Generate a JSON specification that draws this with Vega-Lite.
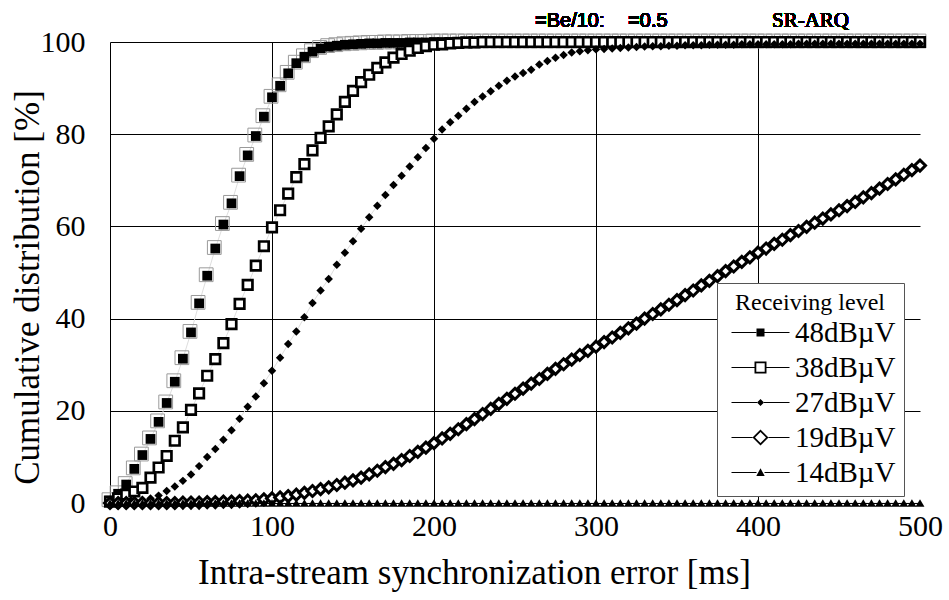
{
"$schema": "https://vega.github.io/schema/vega-lite/v6.json",
"width": 810, "height": 461,
"autosize": "none",
"padding": {"left": 110, "top": 42, "right": 29, "bottom": 97},
"background": "white",
"config": {"view": {"stroke": null}, "font": "Liberation Serif",
  "axis": {"labelFont": "Liberation Serif", "labelFontWeight": "normal", "titleFont": "Liberation Serif", "titleFontWeight": "normal"},
  "legend": {"labelFont": "Liberation Serif", "labelFontWeight": "normal", "titleFont": "Liberation Serif", "titleFontWeight": "normal"},
  "text": {"fontWeight": "normal"}},
"data": {"values": [
{"s":"48dBµV","t":0,"p":0.5},{"s":"48dBµV","t":5,"p":2},{"s":"48dBµV","t":10,"p":4},{"s":"48dBµV","t":15,"p":7.4},{"s":"48dBµV","t":20,"p":10.4},{"s":"48dBµV","t":25,"p":13.9},{"s":"48dBµV","t":30,"p":17.6},{"s":"48dBµV","t":35,"p":21.7},{"s":"48dBµV","t":40,"p":26.3},{"s":"48dBµV","t":45,"p":31.3},{"s":"48dBµV","t":50,"p":37},{"s":"48dBµV","t":55,"p":43.3},{"s":"48dBµV","t":60,"p":49.3},{"s":"48dBµV","t":65,"p":55.2},{"s":"48dBµV","t":70,"p":60.4},{"s":"48dBµV","t":75,"p":65},{"s":"48dBµV","t":80,"p":70.9},{"s":"48dBµV","t":85,"p":75.4},{"s":"48dBµV","t":90,"p":79.6},{"s":"48dBµV","t":95,"p":83.8},{"s":"48dBµV","t":100,"p":88},{"s":"48dBµV","t":105,"p":90.5},{"s":"48dBµV","t":110,"p":93.2},{"s":"48dBµV","t":115,"p":95.4},{"s":"48dBµV","t":120,"p":96.8},{"s":"48dBµV","t":125,"p":97.9},{"s":"48dBµV","t":130,"p":98.6},{"s":"48dBµV","t":135,"p":99},{"s":"48dBµV","t":140,"p":99.2},{"s":"48dBµV","t":145,"p":99.4},{"s":"48dBµV","t":150,"p":99.5},{"s":"48dBµV","t":155,"p":99.6},{"s":"48dBµV","t":160,"p":99.7},{"s":"48dBµV","t":165,"p":99.7},{"s":"48dBµV","t":170,"p":99.8},{"s":"48dBµV","t":175,"p":99.8},{"s":"48dBµV","t":180,"p":99.8},{"s":"48dBµV","t":185,"p":99.9},{"s":"48dBµV","t":190,"p":99.9},{"s":"48dBµV","t":195,"p":99.9},
{"s":"48dBµV","t":200,"p":100},{"s":"48dBµV","t":205,"p":100},{"s":"48dBµV","t":210,"p":100},{"s":"48dBµV","t":215,"p":100},{"s":"48dBµV","t":220,"p":100},{"s":"48dBµV","t":225,"p":100},{"s":"48dBµV","t":230,"p":100},{"s":"48dBµV","t":235,"p":100},{"s":"48dBµV","t":240,"p":100},{"s":"48dBµV","t":245,"p":100},{"s":"48dBµV","t":250,"p":100},{"s":"48dBµV","t":255,"p":100},{"s":"48dBµV","t":260,"p":100},{"s":"48dBµV","t":265,"p":100},{"s":"48dBµV","t":270,"p":100},{"s":"48dBµV","t":275,"p":100},{"s":"48dBµV","t":280,"p":100},{"s":"48dBµV","t":285,"p":100},{"s":"48dBµV","t":290,"p":100},{"s":"48dBµV","t":295,"p":100},{"s":"48dBµV","t":300,"p":100},{"s":"48dBµV","t":305,"p":100},{"s":"48dBµV","t":310,"p":100},{"s":"48dBµV","t":315,"p":100},{"s":"48dBµV","t":320,"p":100},{"s":"48dBµV","t":325,"p":100},{"s":"48dBµV","t":330,"p":100},{"s":"48dBµV","t":335,"p":100},{"s":"48dBµV","t":340,"p":100},{"s":"48dBµV","t":345,"p":100},{"s":"48dBµV","t":350,"p":100},{"s":"48dBµV","t":355,"p":100},{"s":"48dBµV","t":360,"p":100},{"s":"48dBµV","t":365,"p":100},{"s":"48dBµV","t":370,"p":100},{"s":"48dBµV","t":375,"p":100},{"s":"48dBµV","t":380,"p":100},{"s":"48dBµV","t":385,"p":100},{"s":"48dBµV","t":390,"p":100},{"s":"48dBµV","t":395,"p":100},{"s":"48dBµV","t":400,"p":100},{"s":"48dBµV","t":405,"p":100},{"s":"48dBµV","t":410,"p":100},{"s":"48dBµV","t":415,"p":100},{"s":"48dBµV","t":420,"p":100},{"s":"48dBµV","t":425,"p":100},{"s":"48dBµV","t":430,"p":100},{"s":"48dBµV","t":435,"p":100},{"s":"48dBµV","t":440,"p":100},{"s":"48dBµV","t":445,"p":100},{"s":"48dBµV","t":450,"p":100},{"s":"48dBµV","t":455,"p":100},{"s":"48dBµV","t":460,"p":100},{"s":"48dBµV","t":465,"p":100},{"s":"48dBµV","t":470,"p":100},{"s":"48dBµV","t":475,"p":100},{"s":"48dBµV","t":480,"p":100},{"s":"48dBµV","t":485,"p":100},{"s":"48dBµV","t":490,"p":100},{"s":"48dBµV","t":495,"p":100},{"s":"48dBµV","t":500,"p":100},
{"s":"38dBµV","t":0,"p":0.3},{"s":"38dBµV","t":5,"p":1},{"s":"38dBµV","t":10,"p":1.8},{"s":"38dBµV","t":15,"p":2.5},{"s":"38dBµV","t":20,"p":3.3},{"s":"38dBµV","t":25,"p":5.5},{"s":"38dBµV","t":30,"p":7.7},{"s":"38dBµV","t":35,"p":10.2},{"s":"38dBµV","t":40,"p":13.5},{"s":"38dBµV","t":45,"p":16.4},{"s":"38dBµV","t":50,"p":20.2},{"s":"38dBµV","t":55,"p":23.8},{"s":"38dBµV","t":60,"p":27.6},{"s":"38dBµV","t":65,"p":31.2},{"s":"38dBµV","t":70,"p":34.7},{"s":"38dBµV","t":75,"p":38.8},{"s":"38dBµV","t":80,"p":43.2},{"s":"38dBµV","t":85,"p":47.3},{"s":"38dBµV","t":90,"p":51.5},{"s":"38dBµV","t":95,"p":55.7},{"s":"38dBµV","t":100,"p":59.8},{"s":"38dBµV","t":105,"p":63.5},{"s":"38dBµV","t":110,"p":67.1},{"s":"38dBµV","t":115,"p":70.7},{"s":"38dBµV","t":120,"p":73.5},{"s":"38dBµV","t":125,"p":76.5},{"s":"38dBµV","t":130,"p":79.2},{"s":"38dBµV","t":135,"p":81.7},{"s":"38dBµV","t":140,"p":84.3},{"s":"38dBµV","t":145,"p":87},{"s":"38dBµV","t":150,"p":89.4},{"s":"38dBµV","t":155,"p":91.3},{"s":"38dBµV","t":160,"p":92.9},{"s":"38dBµV","t":165,"p":94.4},{"s":"38dBµV","t":170,"p":95.6},{"s":"38dBµV","t":175,"p":96.6},{"s":"38dBµV","t":180,"p":97.4},{"s":"38dBµV","t":185,"p":98.1},{"s":"38dBµV","t":190,"p":98.7},{"s":"38dBµV","t":195,"p":99.1},{"s":"38dBµV","t":200,"p":99.4},{"s":"38dBµV","t":205,"p":99.5},{"s":"38dBµV","t":210,"p":99.7},{"s":"38dBµV","t":215,"p":99.8},{"s":"38dBµV","t":220,"p":99.9},{"s":"38dBµV","t":225,"p":99.9},
{"s":"38dBµV","t":230,"p":100},{"s":"38dBµV","t":235,"p":100},{"s":"38dBµV","t":240,"p":100},{"s":"38dBµV","t":245,"p":100},{"s":"38dBµV","t":250,"p":100},{"s":"38dBµV","t":255,"p":100},{"s":"38dBµV","t":260,"p":100},{"s":"38dBµV","t":265,"p":100},{"s":"38dBµV","t":270,"p":100},{"s":"38dBµV","t":275,"p":100},{"s":"38dBµV","t":280,"p":100},{"s":"38dBµV","t":285,"p":100},{"s":"38dBµV","t":290,"p":100},{"s":"38dBµV","t":295,"p":100},{"s":"38dBµV","t":300,"p":100},{"s":"38dBµV","t":305,"p":100},{"s":"38dBµV","t":310,"p":100},{"s":"38dBµV","t":315,"p":100},{"s":"38dBµV","t":320,"p":100},{"s":"38dBµV","t":325,"p":100},{"s":"38dBµV","t":330,"p":100},{"s":"38dBµV","t":335,"p":100},{"s":"38dBµV","t":340,"p":100},{"s":"38dBµV","t":345,"p":100},{"s":"38dBµV","t":350,"p":100},{"s":"38dBµV","t":355,"p":100},{"s":"38dBµV","t":360,"p":100},{"s":"38dBµV","t":365,"p":100},{"s":"38dBµV","t":370,"p":100},{"s":"38dBµV","t":375,"p":100},{"s":"38dBµV","t":380,"p":100},{"s":"38dBµV","t":385,"p":100},{"s":"38dBµV","t":390,"p":100},{"s":"38dBµV","t":395,"p":100},{"s":"38dBµV","t":400,"p":100},{"s":"38dBµV","t":405,"p":100},{"s":"38dBµV","t":410,"p":100},{"s":"38dBµV","t":415,"p":100},{"s":"38dBµV","t":420,"p":100},{"s":"38dBµV","t":425,"p":100},{"s":"38dBµV","t":430,"p":100},{"s":"38dBµV","t":435,"p":100},{"s":"38dBµV","t":440,"p":100},{"s":"38dBµV","t":445,"p":100},{"s":"38dBµV","t":450,"p":100},{"s":"38dBµV","t":455,"p":100},{"s":"38dBµV","t":460,"p":100},{"s":"38dBµV","t":465,"p":100},{"s":"38dBµV","t":470,"p":100},{"s":"38dBµV","t":475,"p":100},{"s":"38dBµV","t":480,"p":100},{"s":"38dBµV","t":485,"p":100},{"s":"38dBµV","t":490,"p":100},{"s":"38dBµV","t":495,"p":100},{"s":"38dBµV","t":500,"p":100},
{"s":"27dBµV","t":0,"p":0},{"s":"27dBµV","t":5,"p":0},{"s":"27dBµV","t":10,"p":0.1},{"s":"27dBµV","t":15,"p":0.3},{"s":"27dBµV","t":20,"p":0.6},{"s":"27dBµV","t":25,"p":1},{"s":"27dBµV","t":30,"p":1.6},{"s":"27dBµV","t":35,"p":2.6},{"s":"27dBµV","t":40,"p":3.6},{"s":"27dBµV","t":45,"p":4.8},{"s":"27dBµV","t":50,"p":6.2},{"s":"27dBµV","t":55,"p":8},{"s":"27dBµV","t":60,"p":10},{"s":"27dBµV","t":65,"p":11.7},{"s":"27dBµV","t":70,"p":13.7},{"s":"27dBµV","t":75,"p":15.8},{"s":"27dBµV","t":80,"p":18.3},{"s":"27dBµV","t":85,"p":20.9},{"s":"27dBµV","t":90,"p":23.1},{"s":"27dBµV","t":95,"p":26},{"s":"27dBµV","t":100,"p":28.7},{"s":"27dBµV","t":105,"p":31.5},{"s":"27dBµV","t":110,"p":34.5},{"s":"27dBµV","t":115,"p":37.2},{"s":"27dBµV","t":120,"p":40.3},{"s":"27dBµV","t":125,"p":43.4},{"s":"27dBµV","t":130,"p":46.1},{"s":"27dBµV","t":135,"p":48.6},{"s":"27dBµV","t":140,"p":51.7},{"s":"27dBµV","t":145,"p":54.3},{"s":"27dBµV","t":150,"p":56.8},{"s":"27dBµV","t":155,"p":59.5},{"s":"27dBµV","t":160,"p":62},{"s":"27dBµV","t":165,"p":64.5},{"s":"27dBµV","t":170,"p":66.8},{"s":"27dBµV","t":175,"p":69},{"s":"27dBµV","t":180,"p":71},{"s":"27dBµV","t":185,"p":73},{"s":"27dBµV","t":190,"p":75},{"s":"27dBµV","t":195,"p":77},{"s":"27dBµV","t":200,"p":79},{"s":"27dBµV","t":205,"p":81},{"s":"27dBµV","t":210,"p":82.6},{"s":"27dBµV","t":215,"p":84},{"s":"27dBµV","t":220,"p":85.5},{"s":"27dBµV","t":225,"p":87},{"s":"27dBµV","t":230,"p":88.2},{"s":"27dBµV","t":235,"p":89.3},{"s":"27dBµV","t":240,"p":90.5},{"s":"27dBµV","t":245,"p":91.6},{"s":"27dBµV","t":250,"p":92.5},{"s":"27dBµV","t":255,"p":93.3},{"s":"27dBµV","t":260,"p":94},{"s":"27dBµV","t":265,"p":95.1},{"s":"27dBµV","t":270,"p":95.9},{"s":"27dBµV","t":275,"p":96.6},{"s":"27dBµV","t":280,"p":97.2},{"s":"27dBµV","t":285,"p":97.7},{"s":"27dBµV","t":290,"p":98},{"s":"27dBµV","t":295,"p":98.2},{"s":"27dBµV","t":300,"p":98.4},{"s":"27dBµV","t":305,"p":98.5},{"s":"27dBµV","t":310,"p":98.6},{"s":"27dBµV","t":315,"p":98.7},{"s":"27dBµV","t":320,"p":98.8},{"s":"27dBµV","t":325,"p":98.9},{"s":"27dBµV","t":330,"p":99},{"s":"27dBµV","t":335,"p":99.1},{"s":"27dBµV","t":340,"p":99.1},{"s":"27dBµV","t":345,"p":99.2},{"s":"27dBµV","t":350,"p":99.2},{"s":"27dBµV","t":355,"p":99.3},{"s":"27dBµV","t":360,"p":99.3},{"s":"27dBµV","t":365,"p":99.3},{"s":"27dBµV","t":370,"p":99.4},{"s":"27dBµV","t":375,"p":99.4},{"s":"27dBµV","t":380,"p":99.4},{"s":"27dBµV","t":385,"p":99.4},{"s":"27dBµV","t":390,"p":99.5},{"s":"27dBµV","t":395,"p":99.5},{"s":"27dBµV","t":400,"p":99.5},{"s":"27dBµV","t":405,"p":99.5},{"s":"27dBµV","t":410,"p":99.5},{"s":"27dBµV","t":415,"p":99.5},{"s":"27dBµV","t":420,"p":99.5},{"s":"27dBµV","t":425,"p":99.6},{"s":"27dBµV","t":430,"p":99.6},{"s":"27dBµV","t":435,"p":99.6},{"s":"27dBµV","t":440,"p":99.6},{"s":"27dBµV","t":445,"p":99.6},{"s":"27dBµV","t":450,"p":99.6},{"s":"27dBµV","t":455,"p":99.6},{"s":"27dBµV","t":460,"p":99.6},{"s":"27dBµV","t":465,"p":99.6},{"s":"27dBµV","t":470,"p":99.6},{"s":"27dBµV","t":475,"p":99.6},{"s":"27dBµV","t":480,"p":99.6},{"s":"27dBµV","t":485,"p":99.6},{"s":"27dBµV","t":490,"p":99.6},{"s":"27dBµV","t":495,"p":99.6},{"s":"27dBµV","t":500,"p":99.6},
{"s":"19dBµV","t":0,"p":0},{"s":"19dBµV","t":5,"p":0},{"s":"19dBµV","t":10,"p":0},{"s":"19dBµV","t":15,"p":0},{"s":"19dBµV","t":20,"p":0},{"s":"19dBµV","t":25,"p":0},{"s":"19dBµV","t":30,"p":0},{"s":"19dBµV","t":35,"p":0},{"s":"19dBµV","t":40,"p":0},{"s":"19dBµV","t":45,"p":0.1},{"s":"19dBµV","t":50,"p":0.1},{"s":"19dBµV","t":55,"p":0.1},{"s":"19dBµV","t":60,"p":0.2},{"s":"19dBµV","t":65,"p":0.2},{"s":"19dBµV","t":70,"p":0.3},{"s":"19dBµV","t":75,"p":0.3},{"s":"19dBµV","t":80,"p":0.4},{"s":"19dBµV","t":85,"p":0.5},{"s":"19dBµV","t":90,"p":0.6},{"s":"19dBµV","t":95,"p":0.8},{"s":"19dBµV","t":100,"p":1},{"s":"19dBµV","t":105,"p":1.2},{"s":"19dBµV","t":110,"p":1.5},{"s":"19dBµV","t":115,"p":1.8},{"s":"19dBµV","t":120,"p":2.2},{"s":"19dBµV","t":125,"p":2.6},{"s":"19dBµV","t":130,"p":3},{"s":"19dBµV","t":135,"p":3.4},{"s":"19dBµV","t":140,"p":3.9},{"s":"19dBµV","t":145,"p":4.4},{"s":"19dBµV","t":150,"p":4.9},{"s":"19dBµV","t":155,"p":5.5},{"s":"19dBµV","t":160,"p":6.2},{"s":"19dBµV","t":165,"p":7},{"s":"19dBµV","t":170,"p":7.8},{"s":"19dBµV","t":175,"p":8.5},{"s":"19dBµV","t":180,"p":9.3},{"s":"19dBµV","t":185,"p":10.2},{"s":"19dBµV","t":190,"p":11.1},{"s":"19dBµV","t":195,"p":12},{"s":"19dBµV","t":200,"p":13},{"s":"19dBµV","t":205,"p":14},{"s":"19dBµV","t":210,"p":15},{"s":"19dBµV","t":215,"p":16},{"s":"19dBµV","t":220,"p":17.1},{"s":"19dBµV","t":225,"p":18.2},{"s":"19dBµV","t":230,"p":19.3},{"s":"19dBµV","t":235,"p":20.4},{"s":"19dBµV","t":240,"p":21.5},{"s":"19dBµV","t":245,"p":22.6},{"s":"19dBµV","t":250,"p":23.7},{"s":"19dBµV","t":255,"p":24.8},{"s":"19dBµV","t":260,"p":25.9},{"s":"19dBµV","t":265,"p":26.9},{"s":"19dBµV","t":270,"p":28},{"s":"19dBµV","t":275,"p":29.1},{"s":"19dBµV","t":280,"p":30.1},{"s":"19dBµV","t":285,"p":31.1},{"s":"19dBµV","t":290,"p":32.1},{"s":"19dBµV","t":295,"p":33},{"s":"19dBµV","t":300,"p":33.9},{"s":"19dBµV","t":305,"p":34.9},{"s":"19dBµV","t":310,"p":35.9},{"s":"19dBµV","t":315,"p":36.9},{"s":"19dBµV","t":320,"p":37.9},{"s":"19dBµV","t":325,"p":38.9},{"s":"19dBµV","t":330,"p":40},{"s":"19dBµV","t":335,"p":41},{"s":"19dBµV","t":340,"p":42},{"s":"19dBµV","t":345,"p":43},{"s":"19dBµV","t":350,"p":44},{"s":"19dBµV","t":355,"p":45.1},{"s":"19dBµV","t":360,"p":46.1},{"s":"19dBµV","t":365,"p":47.2},{"s":"19dBµV","t":370,"p":48.2},{"s":"19dBµV","t":375,"p":49.2},{"s":"19dBµV","t":380,"p":50.3},{"s":"19dBµV","t":385,"p":51.3},{"s":"19dBµV","t":390,"p":52.3},{"s":"19dBµV","t":395,"p":53.3},{"s":"19dBµV","t":400,"p":54.3},{"s":"19dBµV","t":405,"p":55.2},{"s":"19dBµV","t":410,"p":56.2},{"s":"19dBµV","t":415,"p":57.1},{"s":"19dBµV","t":420,"p":58.1},{"s":"19dBµV","t":425,"p":59},{"s":"19dBµV","t":430,"p":59.9},{"s":"19dBµV","t":435,"p":60.8},{"s":"19dBµV","t":440,"p":61.7},{"s":"19dBµV","t":445,"p":62.6},{"s":"19dBµV","t":450,"p":63.5},{"s":"19dBµV","t":455,"p":64.4},{"s":"19dBµV","t":460,"p":65.3},{"s":"19dBµV","t":465,"p":66.3},{"s":"19dBµV","t":470,"p":67.2},{"s":"19dBµV","t":475,"p":68.2},{"s":"19dBµV","t":480,"p":69.2},{"s":"19dBµV","t":485,"p":70.2},{"s":"19dBµV","t":490,"p":71.2},{"s":"19dBµV","t":495,"p":72.2},{"s":"19dBµV","t":500,"p":73.2},
{"s":"14dBµV","t":0,"p":0},{"s":"14dBµV","t":5,"p":0},{"s":"14dBµV","t":10,"p":0},{"s":"14dBµV","t":15,"p":0},{"s":"14dBµV","t":20,"p":0},{"s":"14dBµV","t":25,"p":0},{"s":"14dBµV","t":30,"p":0},{"s":"14dBµV","t":35,"p":0},{"s":"14dBµV","t":40,"p":0},{"s":"14dBµV","t":45,"p":0},{"s":"14dBµV","t":50,"p":0},{"s":"14dBµV","t":55,"p":0},{"s":"14dBµV","t":60,"p":0},{"s":"14dBµV","t":65,"p":0},{"s":"14dBµV","t":70,"p":0},{"s":"14dBµV","t":75,"p":0},{"s":"14dBµV","t":80,"p":0},{"s":"14dBµV","t":85,"p":0},{"s":"14dBµV","t":90,"p":0},{"s":"14dBµV","t":95,"p":0},{"s":"14dBµV","t":100,"p":0},{"s":"14dBµV","t":105,"p":0},{"s":"14dBµV","t":110,"p":0},{"s":"14dBµV","t":115,"p":0},{"s":"14dBµV","t":120,"p":0},{"s":"14dBµV","t":125,"p":0},{"s":"14dBµV","t":130,"p":0},{"s":"14dBµV","t":135,"p":0},{"s":"14dBµV","t":140,"p":0},{"s":"14dBµV","t":145,"p":0},{"s":"14dBµV","t":150,"p":0},{"s":"14dBµV","t":155,"p":0},{"s":"14dBµV","t":160,"p":0},{"s":"14dBµV","t":165,"p":0},{"s":"14dBµV","t":170,"p":0},{"s":"14dBµV","t":175,"p":0},{"s":"14dBµV","t":180,"p":0},{"s":"14dBµV","t":185,"p":0},{"s":"14dBµV","t":190,"p":0},{"s":"14dBµV","t":195,"p":0},{"s":"14dBµV","t":200,"p":0},{"s":"14dBµV","t":205,"p":0},{"s":"14dBµV","t":210,"p":0},{"s":"14dBµV","t":215,"p":0},{"s":"14dBµV","t":220,"p":0},{"s":"14dBµV","t":225,"p":0},{"s":"14dBµV","t":230,"p":0},{"s":"14dBµV","t":235,"p":0},{"s":"14dBµV","t":240,"p":0},{"s":"14dBµV","t":245,"p":0},{"s":"14dBµV","t":250,"p":0},{"s":"14dBµV","t":255,"p":0},{"s":"14dBµV","t":260,"p":0},{"s":"14dBµV","t":265,"p":0},{"s":"14dBµV","t":270,"p":0},{"s":"14dBµV","t":275,"p":0},{"s":"14dBµV","t":280,"p":0},{"s":"14dBµV","t":285,"p":0},{"s":"14dBµV","t":290,"p":0},{"s":"14dBµV","t":295,"p":0},{"s":"14dBµV","t":300,"p":0},{"s":"14dBµV","t":305,"p":0},{"s":"14dBµV","t":310,"p":0},{"s":"14dBµV","t":315,"p":0},{"s":"14dBµV","t":320,"p":0},{"s":"14dBµV","t":325,"p":0},{"s":"14dBµV","t":330,"p":0},{"s":"14dBµV","t":335,"p":0},{"s":"14dBµV","t":340,"p":0},{"s":"14dBµV","t":345,"p":0},{"s":"14dBµV","t":350,"p":0},{"s":"14dBµV","t":355,"p":0},{"s":"14dBµV","t":360,"p":0},{"s":"14dBµV","t":365,"p":0},{"s":"14dBµV","t":370,"p":0},{"s":"14dBµV","t":375,"p":0},{"s":"14dBµV","t":380,"p":0},{"s":"14dBµV","t":385,"p":0},{"s":"14dBµV","t":390,"p":0},{"s":"14dBµV","t":395,"p":0},{"s":"14dBµV","t":400,"p":0},{"s":"14dBµV","t":405,"p":0},{"s":"14dBµV","t":410,"p":0},{"s":"14dBµV","t":415,"p":0},{"s":"14dBµV","t":420,"p":0},{"s":"14dBµV","t":425,"p":0},{"s":"14dBµV","t":430,"p":0},{"s":"14dBµV","t":435,"p":0},{"s":"14dBµV","t":440,"p":0},{"s":"14dBµV","t":445,"p":0},{"s":"14dBµV","t":450,"p":0},{"s":"14dBµV","t":455,"p":0},{"s":"14dBµV","t":460,"p":0},{"s":"14dBµV","t":465,"p":0},{"s":"14dBµV","t":470,"p":0},{"s":"14dBµV","t":475,"p":0},{"s":"14dBµV","t":480,"p":0},{"s":"14dBµV","t":485,"p":0},{"s":"14dBµV","t":490,"p":0},{"s":"14dBµV","t":495,"p":0},{"s":"14dBµV","t":500,"p":0}
]},
"encoding": {
  "x": {"field": "t", "type": "quantitative", "scale": {"domain": [0, 500], "nice": false, "zero": false},
    "axis": {"title": "Intra-stream synchronization error [ms]", "values": [0, 100, 200, 300, 400, 500], "ticks": false,
      "labelFont": "Liberation Serif", "labelFontWeight": "normal", "labelFontSize": 30, "labelColor": "black", "labelPadding": 8, "labelFlush": false,
      "titleFont": "Liberation Serif", "titleFontSize": 35, "titleFontWeight": "normal", "titleColor": "black", "titlePadding": 14, "titleX": 364,
      "domainColor": "black", "domainWidth": 1,
      "grid": true, "gridColor": {"condition": {"test": "datum.value === 0 || datum.value === 500", "value": "transparent"}, "value": "black"}, "gridOpacity": 1, "gridWidth": 1}},
  "y": {"field": "p", "type": "quantitative", "scale": {"domain": [0, 100], "nice": false},
    "axis": {"title": "Cumulative distribution [%]", "values": [0, 20, 40, 60, 80, 100], "ticks": false,
      "labelFont": "Liberation Serif", "labelFontWeight": "normal", "labelFontSize": 30, "labelColor": "black", "labelPadding": 25, "labelFlush": false,
      "titleFont": "Liberation Serif", "titleFontSize": 35, "titleFontWeight": "normal", "titleColor": "black", "titlePadding": -5, "titleY": 245,
      "domainColor": "black", "domainWidth": 1,
      "grid": true, "gridColor": "black", "gridOpacity": 1, "gridWidth": 1}}
},
"resolve": {"scale": {"shape": "independent"}, "legend": {"shape": "independent"}},
"layer": [
  {"mark": {"type": "line", "stroke": "#dedede", "strokeWidth": 1, "clip": true},
   "encoding": {"detail": {"field": "s", "type": "nominal"}}},
  {"transform": [{"filter": "datum.s === '48dBµV'"}],
   "mark": {"type": "point", "shape": "square", "size": 190, "filled": false, "fill": null, "stroke": "#9a9a9a", "strokeWidth": 1, "opacity": 1, "xOffset": -1, "yOffset": -1}},
  {"mark": {"type": "point", "opacity": 1, "stroke": "black"},
   "encoding": {
     "shape": {"field": "s", "type": "nominal",
       "scale": {"domain": ["48dBµV", "38dBµV", "27dBµV", "19dBµV", "14dBµV"], "range": ["square", "square", "diamond", "diamond", "triangle-up"]},
       "legend": null},
     "fill": {"condition": [{"test": "datum.s === '38dBµV'", "value": "white"}, {"test": "datum.s === '19dBµV'", "value": "white"}], "value": "black"},
     "size": {"condition": [{"test": "datum.s === '48dBµV'", "value": 95}, {"test": "datum.s === '38dBµV'", "value": 90}, {"test": "datum.s === '27dBµV'", "value": 72}, {"test": "datum.s === '19dBµV'", "value": 120}], "value": 80},
     "strokeWidth": {"condition": [{"test": "datum.s === '38dBµV'", "value": 2.7}, {"test": "datum.s === '19dBµV'", "value": 3}], "value": 0}
   }},
  {"transform": [{"filter": "datum.t === 500"}],
   "mark": {"type": "point", "filled": true, "fill": "black", "strokeWidth": 0, "opacity": 0},
   "encoding": {
     "shape": {"field": "s", "type": "nominal",
       "scale": {"domain": ["48dBµV", "38dBµV", "27dBµV", "19dBµV", "14dBµV"],
         "range": [
           "M-2.9,-0.05H-0.4V0.05H-2.9ZM0.4,-0.05H2.9V0.05H0.4ZM-0.4,-0.4H0.4V0.4H-0.4Z",
           "M-2.9,-0.05H-0.6V0.05H-2.9ZM0.6,-0.05H2.9V0.05H0.6ZM-0.6,-0.6H0.6V0.6H-0.6ZM-0.42,-0.42V0.42H0.42V-0.42Z",
           "M-2.9,-0.05H-0.35V0.05H-2.9ZM0.35,-0.05H2.9V0.05H0.35ZM-0.35,0L0,-0.35L0.35,0L0,0.35Z",
           "M-2.9,-0.05H-0.8V0.05H-2.9ZM0.8,-0.05H2.9V0.05H0.8ZM-0.8,0L0,-0.8L0.8,0L0,0.8ZM-0.55,0L0,0.55L0.55,0L0,-0.55Z",
           "M-2.9,-0.05H-0.4V0.05H-2.9ZM0.4,-0.05H2.9V0.05H0.4ZM-0.42,0.35L0,-0.42L0.42,0.35Z"
         ]},
       "legend": {"orient": "none", "legendX": 607, "legendY": 241, "title": "Receiving level",
         "titleFont": "Liberation Serif", "titleFontSize": 24, "titleFontWeight": "normal", "titleColor": "black", "titleAnchor": "middle", "titlePadding": 3,
         "labelFont": "Liberation Serif", "labelFontWeight": "normal", "labelFontSize": 29, "labelColor": "black",
         "symbolSize": 400, "symbolStrokeWidth": 0, "symbolOpacity": 1, "symbolFillColor": "black", "symbolStrokeColor": "black",
         "symbolOffset": 21, "labelOffset": 20, "rowPadding": 5,
         "padding": 8, "strokeColor": "#555555", "fillColor": "white"}}
   }},
  {"mark": {"type": "text", "font": "Liberation Sans", "fontWeight": "normal", "fontSize": 20, "align": "center", "baseline": "alphabetic", "color": "black"},
   "encoding": {"x": {"datum": 283.8}, "y": {"datum": 103.25}, "text": {"value": "=Be/10:"}}},
  {"mark": {"type": "text", "font": "Liberation Sans", "fontWeight": "normal", "fontSize": 20, "align": "center", "baseline": "alphabetic", "color": "black"},
   "encoding": {"x": {"datum": 332}, "y": {"datum": 103.25}, "text": {"value": "=0.5"}}},
  {"mark": {"type": "text", "font": "Liberation Serif", "fontWeight": "normal", "fontSize": 21, "align": "center", "baseline": "alphabetic", "color": "black"},
   "encoding": {"x": {"datum": 432.4}, "y": {"datum": 103.25}, "text": {"value": "SR-ARQ"}}}
]
}
